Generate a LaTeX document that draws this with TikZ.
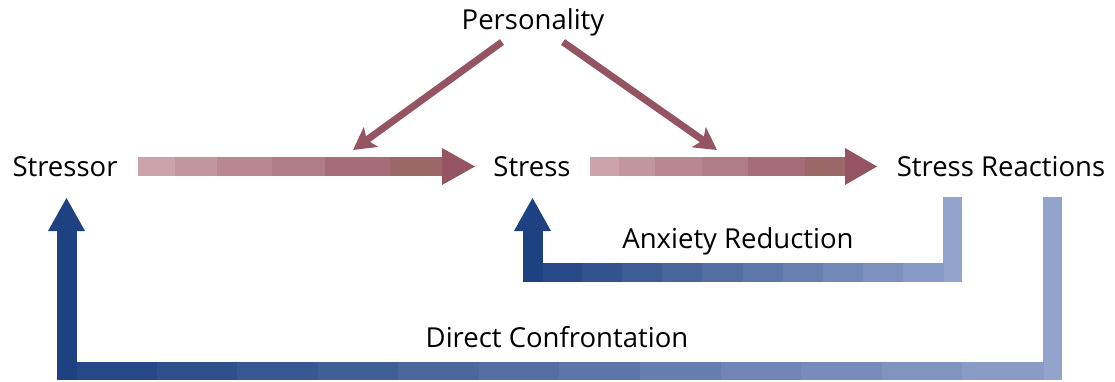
\documentclass[tikz,border=0pt]{standalone}
\usepackage{fontspec}
\setmainfont{Open Sans}
\usetikzlibrary{arrows.meta}
\definecolor{pkA}{HTML}{CCA3AA}
\definecolor{pkB}{HTML}{C3959C}
\definecolor{pkC}{HTML}{B9888F}
\definecolor{pkD}{HTML}{B07C85}
\definecolor{pkE}{HTML}{A66D78}
\definecolor{pkF}{HTML}{9B6767}
\definecolor{pkH}{HTML}{955462}
\definecolor{bdark}{HTML}{1E4181}
\definecolor{blight}{HTML}{93A4CC}
\tikzset{
  lbl/.style={font=\fontsize{27.5}{32}\selectfont, inner sep=0pt, anchor=base, text=black},
  persarrow/.style={draw=pkH, line width=7pt, -{Stealth[length=22pt,width=24pt,inset=5pt]}},
}
\begin{document}
\begin{tikzpicture}[x=1pt,y=-1pt]
\useasboundingbox (0,0) rectangle (1115,381);
% labels
\node[lbl] (personality) at (533,29) {Personality};
\node[lbl] (stressor) at (65,176) {Stressor};
\node[lbl] (stress) at (532,176) {Stress};
\node[lbl] (reactions) at (1001,176) {Stress Reactions};
\node[lbl] (anxiety) at (738,248) {Anxiety Reduction};
\node[lbl] (direct) at (557,347) {Direct Confrontation};
% personality arrows
\coordinate (pl) at (502,42);
\coordinate (pr) at (563,42);
\coordinate (tl) at (353,150);
\coordinate (tr) at (717,150);
% pink arrow 1: Stressor -> Stress
\foreach \a/\b/\c in {138/175/pkA,175/217/pkB,217/272/pkC,272/325/pkD,325/390/pkE,390/443/pkF}
  \fill[\c] (\a,157) rectangle (\b,176);
\fill[pkH] (442,148) -- (475,166.5) -- (442,185) -- cycle;
% pink arrow 2: Stress -> Stress Reactions
\foreach \a/\b/\c in {590/619/pkA,619/655/pkB,655/702/pkC,702/748/pkD,748/805/pkE,805/846/pkF}
  \fill[\c] (\a,157) rectangle (\b,176);
\fill[pkH] (845,148) -- (877,166.5) -- (845,185) -- cycle;
\draw[persarrow] (pl) -- (tl);
\draw[persarrow] (pr) -- (tr);
% Anxiety Reduction loop
\fill[blight] (943,197) rectangle (962,282);
\foreach \i in {0,...,9} {
  \pgfmathsetmacro\xa{542+\i*40.1}
  \pgfmathsetmacro\xb{542+(\i+1)*40.1+0.6}
  \pgfmathtruncatemacro\p{(\i+1)*100/11}
  \fill[blight!\p!bdark] (\xa,263) rectangle (\xb,282);
}
\fill[bdark] (523,231) rectangle (542.6,282);
\fill[bdark] (514,231) -- (532.5,198) -- (551,231) -- cycle;
% Direct Confrontation loop
\fill[blight] (1043,197) rectangle (1062,380);
\foreach \i in {0,...,11} {
  \pgfmathsetmacro\xa{76+\i*80.58}
  \pgfmathsetmacro\xb{76+(\i+1)*80.58+0.6}
  \pgfmathtruncatemacro\p{(\i+1)*100/13}
  \fill[blight!\p!bdark] (\xa,362) rectangle (\xb,380);
}
\fill[bdark] (57,231) rectangle (76.6,380);
\fill[bdark] (48,231) -- (66.5,198) -- (85,231) -- cycle;
\end{tikzpicture}
\end{document}
